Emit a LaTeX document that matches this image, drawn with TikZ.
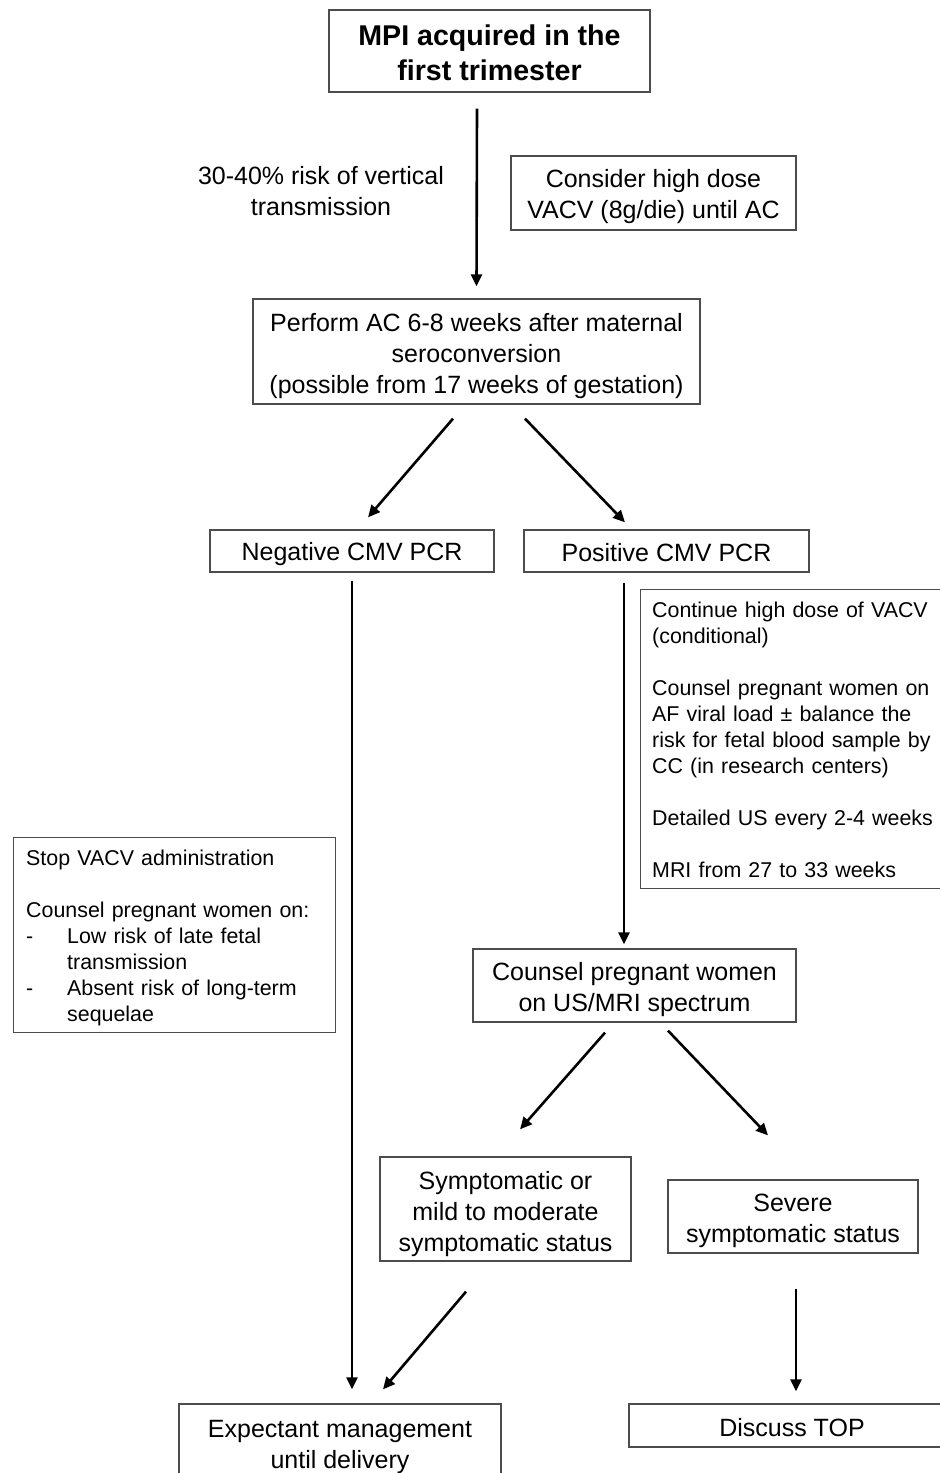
\documentclass[tikz,border=0pt]{standalone}
\usepackage{fontspec}
\setmainfont{Liberation Sans}
\usetikzlibrary{arrows.meta}
\begin{document}
\begin{tikzpicture}[x=1pt,y=-1pt,
  frame/.style={draw=black!70, line width=1.3pt, inner sep=0pt},
  txt/.style={inner sep=0pt, align=center, font=\fontsize{25}{31}\selectfont},
  smalltxt/.style={inner sep=0pt, align=left, font=\fontsize{21.4}{26}\selectfont},
  arr/.style={line width=2.6pt, -{Triangle[length=12pt,width=11pt]}},
]
\useasboundingbox (0,0) rectangle (940,1473);
\clip (0,0) rectangle (940,1473);
\fill[white] (0,0) rectangle (940,1473);

% frames
\node[frame, minimum width=321, minimum height=82] (top) at (489.5,51) {};
\node[frame, minimum width=285, minimum height=74] (consider) at (653.5,193) {};
\node[frame, minimum width=447, minimum height=105] (perform) at (476.5,351.5) {};
\node[frame, minimum width=284, minimum height=42] (neg) at (352,551) {};
\node[frame, minimum width=285, minimum height=42] (pos) at (666.5,551) {};
\node[frame, anchor=north west, minimum width=322, minimum height=299] (right) at (640,589) {};
\node[frame, anchor=north west, minimum width=322, minimum height=195] (left) at (13,837) {};
\node[frame, minimum width=323, minimum height=73] (counsel) at (634.5,985.5) {};
\node[frame, minimum width=251, minimum height=104] (symp) at (505.5,1209) {};
\node[frame, minimum width=250, minimum height=73] (severe) at (793,1216.5) {};
\node[frame, minimum width=322, minimum height=78] (expect) at (340,1443) {};
\node[frame, minimum width=326, minimum height=43] (discuss) at (792,1425.5) {};

% texts
\node[txt, font=\bfseries\fontsize{28.6}{35}\selectfont] (topT) at ([yshift=-2pt]top.center) {MPI acquired in the\\first trimester};
\node[txt] (risk) at (321,191) {30-40\% risk of vertical\\transmission};
\node[txt] (considerT) at ([yshift=-4pt]consider.center) {Consider high dose\\VACV (8g/die) until AC};
\node[txt] (performT) at ([yshift=-5pt]perform.center) {Perform AC 6-8 weeks after maternal\\seroconversion\\(possible from 17 weeks of gestation)};
\node[txt] (negT) at ([yshift=-3pt]neg.center) {Negative CMV PCR};
\node[txt] (posT) at ([yshift=-1.5pt]pos.center) {Positive CMV PCR};
\node[smalltxt, anchor=west, text width=300] (rightT) at ([xshift=12pt,yshift=-1pt]right.west) {Continue high dose of VACV\\(conditional)\\[26pt]Counsel pregnant women on\\AF viral load \char"00B1{} balance the\\risk for fetal blood sample by\\CC (in research centers)\\[26pt]Detailed US every 2-4 weeks\\[26pt]MRI from 27 to 33 weeks};
\node[smalltxt, anchor=west, text width=300] (leftT) at ([xshift=13pt,yshift=-3pt]left.west) {Stop VACV administration\\[26pt]Counsel pregnant women on:\\\makebox[41pt][l]{-}Low risk of late fetal\\\makebox[41pt]{}transmission\\\makebox[41pt][l]{-}Absent risk of long-term\\\makebox[41pt]{}sequelae};
\node[txt] (counselT) at ([yshift=-4pt]counsel.center) {Counsel pregnant women\\on US/MRI spectrum};
\node[txt] (sympT) at ([yshift=-5pt]symp.center) {Symptomatic or\\mild to moderate\\symptomatic status};
\node[txt] (severeT) at ([yshift=-4pt]severe.center) {Severe\\symptomatic status};
\node[txt] (expectT) at ([yshift=-4pt]expect.center) {Expectant management\\until delivery};
\node[txt] (discussT) at ([yshift=-2pt]discuss.center) {Discuss TOP};

% connectors
\draw[arr] ([xshift=-12.5pt,yshift=-16pt]top.south) -- ([yshift=12pt]perform.north);
\draw[arr] ([xshift=-23.5pt,yshift=-14pt]perform.south) -- ([xshift=16pt,yshift=12pt]neg.north);
\draw[arr] ([xshift=48.5pt,yshift=-14pt]perform.south) -- ([xshift=-41.5pt,yshift=7pt]pos.north);
\draw[arr] ([yshift=-8pt]neg.south) -- ([xshift=12pt,yshift=14pt]expect.north);
\draw[arr] ([xshift=-42.5pt,yshift=-10pt]pos.south) -- ([xshift=-10.5pt,yshift=4pt]counsel.north);
\draw[arr] ([xshift=-29.5pt,yshift=-10pt]counsel.south) -- ([xshift=14.5pt,yshift=27pt]symp.north);
\draw[arr] ([xshift=33.5pt,yshift=-8pt]counsel.south) -- ([xshift=-25pt,yshift=44pt]severe.north);
\draw[arr] ([xshift=-39.5pt,yshift=-30pt]symp.south) -- ([xshift=43pt,yshift=14pt]expect.north);
\draw[arr] ([xshift=3pt,yshift=-35pt]severe.south) -- ([xshift=4pt,yshift=12pt]discuss.north);
\end{tikzpicture}
\end{document}
